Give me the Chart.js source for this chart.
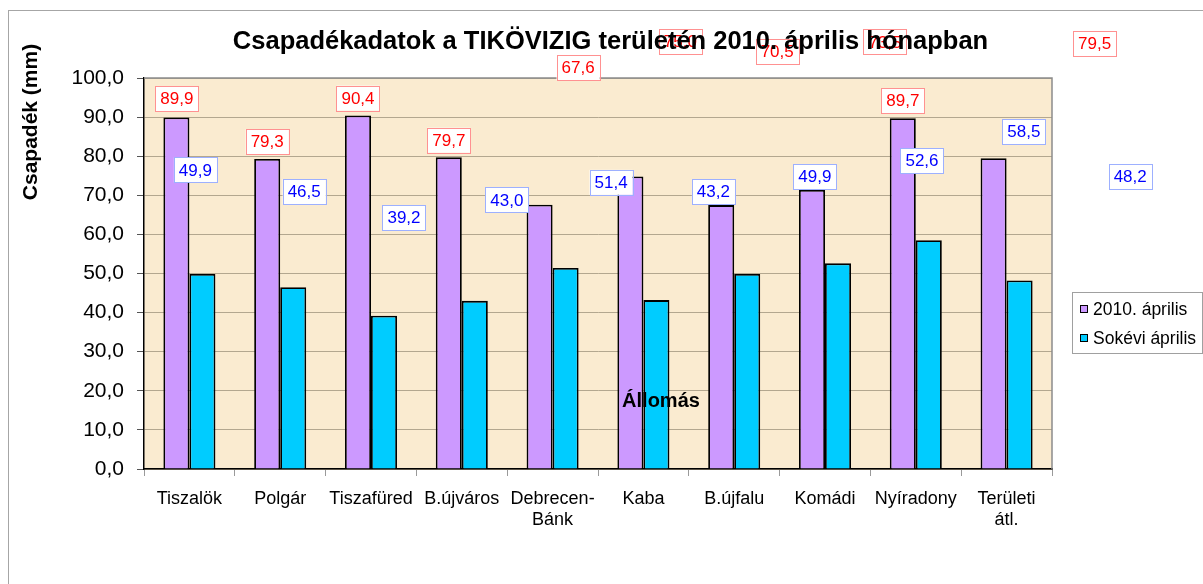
<!DOCTYPE html>
<html>
<head>
<meta charset="utf-8">
<script src="https://cdn.jsdelivr.net/npm/chart.js@4"></script>
<style>
  html, body { margin: 0; padding: 0; background: #ffffff; }
  canvas { display: block; }
</style>
</head>
<body>
<canvas id="c" width="1203" height="584"></canvas>
<script>
// ---- data ----
const stations = ['Tiszalök', 'Polgár', 'Tiszafüred', 'B.újváros', ['Debrecen-', 'Bánk'], 'Kaba', 'B.újfalu', 'Komádi', 'Nyíradony', ['Területi', 'átl.']];
const april2010 = [89.9, 79.3, 90.4, 79.7, 67.6, 74.8, 67.5, 71.4, 89.7, 79.5];
const longTermApril = [49.9, 46.5, 39.2, 43.0, 51.4, 43.2, 49.9, 52.6, 58.5, 48.2];
const april2010LabelText = ['89,9', '79,3', '90,4', '79,7', '67,6', '75,0', '70,5', '73,5', '89,7', '79,5'];
const longTermLabelText = ['49,9', '46,5', '39,2', '43,0', '51,4', '43,2', '49,9', '52,6', '58,5', '48,2'];
const seriesNames = ['2010. április', 'Sokévi április'];
const yTicks = [0, 10, 20, 30, 40, 50, 60, 70, 80, 90, 100];

// ---- label placement (pixel offsets from bar top, as in the reference) ----
const offs2010 = [[0.4,-19],[0,-17.2],[0,-17.4],[0,-17.2],[38.5,-137],[50,-135],[56,-153.5],[73,-148],[0,-17.5],[101,-115]];
const offsLong = [[-7,-104],[11,-95.5],[20,-98],[32,-101],[45.5,-85.7],[57,-108.5],[67.6,-97.2],[84,-102.7],[95,-108.7],[110.6,-104]];

const FONT = '"Liberation Sans", Arial, Helvetica, sans-serif';
const PURPLE = '#CC99FF';
const CYAN = '#00CCFF';

const decor = {
  id: 'decor',
  beforeDraw(chart) {
    const ctx = chart.ctx, a = chart.chartArea;
    ctx.save();
    ctx.fillStyle = '#ffffff';
    ctx.fillRect(0, 0, chart.width, chart.height);
    // outer frame
    ctx.strokeStyle = '#A6A6A6';
    ctx.lineWidth = 1;
    ctx.strokeRect(8.5, 10.5, 1400, 800);
    // plot background
    ctx.fillStyle = '#FAEBD0';
    ctx.fillRect(a.left, a.top, a.right - a.left, a.bottom - a.top);
    ctx.restore();
  },
  afterDraw(chart) {
    const ctx = chart.ctx, a = chart.chartArea;
    ctx.save();
    // top and right plot border
    ctx.strokeStyle = '#8C8C8C';
    ctx.lineWidth = 1.5;
    ctx.beginPath();
    ctx.moveTo(a.left, a.top);
    ctx.lineTo(a.right, a.top);
    ctx.lineTo(a.right, a.bottom);
    ctx.stroke();

    // data labels
    const drawLabel = (txt, x, y, color, border) => {
      ctx.font = '17px ' + FONT;
      const w = ctx.measureText(txt).width + 10, h = 25;
      ctx.fillStyle = '#ffffff';
      ctx.fillRect(x - w / 2, y - h / 2, w, h);
      ctx.strokeStyle = border;
      ctx.lineWidth = 1;
      ctx.strokeRect(Math.round(x - w / 2) + 0.5, Math.round(y - h / 2) + 0.5, Math.round(w), h);
      ctx.fillStyle = color;
      ctx.textAlign = 'center';
      ctx.textBaseline = 'middle';
      ctx.fillText(txt, x, y + 1);
    };
    const m0 = chart.getDatasetMeta(0).data, m1 = chart.getDatasetMeta(1).data;
    m0.forEach((b, i) => drawLabel(april2010LabelText[i], b.x + offs2010[i][0], b.y + offs2010[i][1], '#FF0000', '#FF9191'));
    m1.forEach((b, i) => drawLabel(longTermLabelText[i], b.x + offsLong[i][0], b.y + offsLong[i][1], '#0000FF', '#9DB0FF'));

    // title
    ctx.fillStyle = '#000000';
    ctx.font = 'bold 25.5px ' + FONT;
    ctx.textAlign = 'center';
    ctx.textBaseline = 'alphabetic';
    ctx.fillText('Csapadékadatok a TIKÖVIZIG területén 2010. április hónapban', 610.5, 49);

    // y axis title
    ctx.save();
    ctx.translate(37, 122);
    ctx.rotate(-Math.PI / 2);
    ctx.font = 'bold 21px ' + FONT;
    ctx.textAlign = 'center';
    ctx.textBaseline = 'alphabetic';
    ctx.fillText('Csapadék (mm)', 0, 0);
    ctx.restore();

    // x axis title (displaced, as in the reference)
    ctx.font = 'bold 20px ' + FONT;
    ctx.textAlign = 'center';
    ctx.textBaseline = 'middle';
    ctx.fillText('Állomás', 661, 401);

    // legend
    ctx.fillStyle = '#ffffff';
    ctx.fillRect(1072.5, 292.5, 130, 61);
    ctx.strokeStyle = '#A0A0A0';
    ctx.lineWidth = 1;
    ctx.strokeRect(1072.5, 292.5, 130, 61);
    const items = [[seriesNames[0], PURPLE, 309], [seriesNames[1], CYAN, 338]];
    items.forEach(([name, col, y]) => {
      ctx.fillStyle = col;
      ctx.fillRect(1080.5, y - 3.5, 7, 7);
      ctx.strokeStyle = '#000';
      ctx.strokeRect(1080.5, y - 3.5, 7, 7);
      ctx.fillStyle = '#000';
      ctx.font = '17.5px ' + FONT;
      ctx.textAlign = 'left';
      ctx.textBaseline = 'middle';
      ctx.fillText(name, 1093, y + 1);
    });
    ctx.restore();
  }
};

new Chart(document.getElementById('c'), {
  type: 'bar',
  data: {
    labels: stations,
    datasets: [
      { label: seriesNames[0], data: april2010, backgroundColor: PURPLE, borderColor: '#000', borderWidth: 1.8, borderSkipped: 'bottom' },
      { label: seriesNames[1], data: longTermApril, backgroundColor: CYAN, borderColor: '#000', borderWidth: 1.8, borderSkipped: 'bottom' }
    ]
  },
  options: {
    responsive: false,
    animation: false,
    devicePixelRatio: 1,
    layout: { padding: { left: 0, top: 78, right: 151, bottom: 0 } },
    datasets: { bar: { categoryPercentage: 0.573, barPercentage: 1 } },
    plugins: { legend: { display: false }, title: { display: false }, tooltip: { enabled: false } },
    scales: {
      x: {
        grid: { display: true, drawOnChartArea: false, offset: true, tickLength: 7, tickColor: '#9A9A9A' },
        border: { color: '#000', width: 1.5 },
        ticks: { color: '#000', font: { family: FONT, size: 18, lineHeight: 1.2 }, padding: 12, maxRotation: 0, autoSkip: false },
        afterFit(s) { s.height = 115; }
      },
      y: {
        min: 0, max: 100,
        afterBuildTicks(s) { s.ticks = yTicks.map(v => ({ value: v })); },
        grid: { color: '#B3A78F', lineWidth: 1, tickLength: 7, tickColor: '#555' },
        border: { color: '#000', width: 1.5 },
        ticks: { color: '#000', font: { family: FONT, size: 21 }, padding: 13, callback: v => v.toFixed(1).replace('.', ',') },
        afterFit(s) { s.width = 144; }
      }
    }
  },
  plugins: [decor]
});
</script>
</body>
</html>
